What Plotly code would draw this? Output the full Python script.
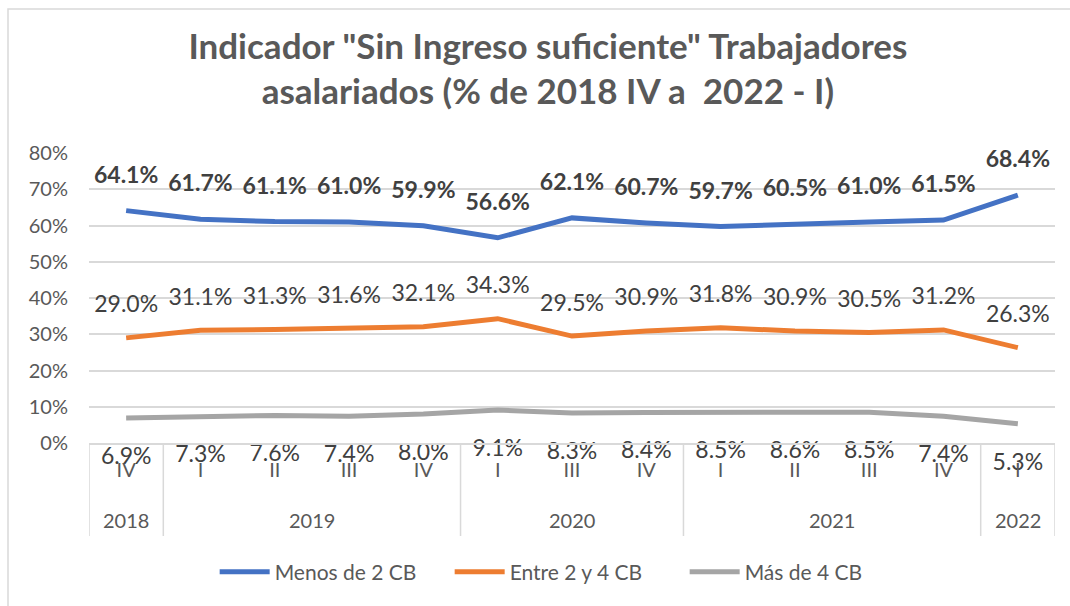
import plotly.graph_objects as go

years = ["2018", "2019", "2019", "2019", "2019", "2020", "2020", "2020",
         "2021", "2021", "2021", "2021", "2022"]
quarters = ["IV", "I", "II", "III", "IV", "I", "III", "IV", "I", "II", "III", "IV", "I"]

menos_2cb = [64.1, 61.7, 61.1, 61.0, 59.9, 56.6, 62.1, 60.7, 59.7, 60.5, 61.0, 61.5, 68.4]
entre_2_4cb = [29.0, 31.1, 31.3, 31.6, 32.1, 34.3, 29.5, 30.9, 31.8, 30.9, 30.5, 31.2, 26.3]
mas_4cb = [6.9, 7.3, 7.6, 7.4, 8.0, 9.1, 8.3, 8.4, 8.5, 8.6, 8.5, 7.4, 5.3]

idx = list(range(len(quarters)))

# name, values, colour, label position, bold label, label offset (marker size)
series = [
    ("Menos de 2 CB", [v / 100 for v in menos_2cb], "#4472C4", "top center", True, 34),
    ("Entre 2 y 4 CB", [v / 100 for v in entre_2_4cb], "#ED7D31", "top center", False, 30),
    ("Más de 4 CB", [v / 100 for v in mas_4cb], "#A5A5A5", "bottom center", False, 44),
]

FONT = "Lato"
GRID = "#D9D9D9"
TXT = "#595959"

fig = go.Figure()
for name, vals, color, pos, bold, off in series:
    fig.add_trace(go.Scatter(
        x=idx, y=vals, name=name, mode="lines",
        line=dict(color=color, width=5),
        cliponaxis=False,
    ))
for name, vals, color, pos, bold, off in series:
    labels = [f"{v*100:.1f}%" for v in vals]
    if bold:
        labels = [f"<b>{t}</b>" for t in labels]
    fig.add_trace(go.Scatter(
        x=idx, y=vals, mode="markers+text", showlegend=False,
        marker=dict(size=off, opacity=0, color=color),
        text=labels, textposition=pos,
        textfont=dict(family=FONT, size=23, color="#404040"),
        cliponaxis=False, hoverinfo="skip",
    ))

# Year group labels and dividers of the category axis
PLOT_H = 290
PLOT_W = 966
bottom_y = -93 / PLOT_H
groups = []
for i, y in enumerate(years):
    if groups and groups[-1][0] == y:
        groups[-1][2] = i
    else:
        groups.append([y, i, i])

annotations = []
shapes = []
for y, a, b in groups:
    annotations.append(dict(
        x=(a + b) / 2, xref="x", y=-77 / PLOT_H, yref="paper",
        text=y, showarrow=False, xanchor="center", yanchor="middle",
        font=dict(family=FONT, size=20, color=TXT),
    ))
    shapes.append(dict(type="line", xref="x", yref="paper",
                       x0=a - 0.5, x1=a - 0.5, y0=0, y1=bottom_y,
                       line=dict(color=GRID, width=1.5)))
shapes.append(dict(type="line", xref="x", yref="paper",
                   x0=len(quarters) - 0.5, x1=len(quarters) - 0.5, y0=0, y1=bottom_y,
                   line=dict(color=GRID, width=1.5)))
# chart border (left and top edges visible)
shapes.append(dict(type="rect", xref="paper", yref="paper",
                   x0=-81 / PLOT_W, x1=1 + 30 / PLOT_W, y0=-180 / PLOT_H, y1=1 + 144 / PLOT_H,
                   line=dict(color=GRID, width=1.5), fillcolor="rgba(0,0,0,0)", layer="below"))

fig.update_layout(
    width=1070, height=606,
    paper_bgcolor="white", plot_bgcolor="white",
    margin=dict(l=89, r=15, t=153, b=163, autoexpand=False),
    title=dict(
        text="<b>Indicador \"Sin Ingreso suficiente\" Trabajadores<br>asalariados (% de 2018 IV a  2022 - I)</b>",
        x=0.512, xanchor="center", y=0.903, yanchor="top",
        font=dict(family=FONT, size=35, color=TXT),
    ),
    font=dict(family=FONT, color=TXT),
    showlegend=True,
    legend=dict(
        orientation="h", x=0.495, xanchor="center",
        yref="container", y=1 - 572 / 606, yanchor="middle",
        font=dict(family=FONT, size=21, color=TXT),
        itemwidth=50, entrywidth=170, entrywidthmode="pixels",
    ),
    xaxis=dict(
        range=[-0.5, len(quarters) - 0.5], automargin=False,
        tickmode="array", tickvals=idx, ticktext=quarters,
        showline=True, linecolor=GRID, linewidth=1.5,
        showgrid=False, zeroline=False, ticks="",
        ticklabelstandoff=8,
        tickfont=dict(family=FONT, size=20, color=TXT),
    ),
    yaxis=dict(
        range=[0, 0.8], dtick=0.1, tickformat=".0%", automargin=False,
        showgrid=True, gridcolor=GRID, gridwidth=1.5,
        zeroline=False, showline=False,
        ticklabelstandoff=20,
        tickfont=dict(family=FONT, size=20, color=TXT),
    ),
    annotations=annotations,
    shapes=shapes,
)

fig.write_html("out.html", config={"displayModeBar": False},
               post_script="document.body.style.margin='0';")
